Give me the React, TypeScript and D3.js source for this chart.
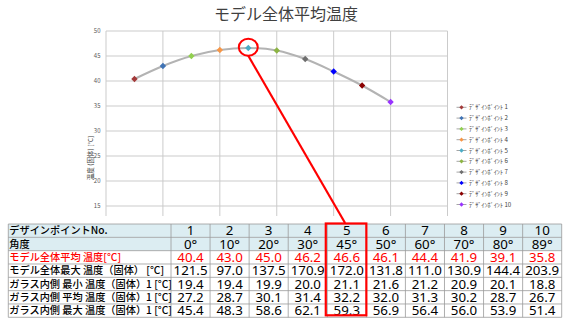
import React from "react";
import * as d3 from "d3";

const title = "モデル全体平均温度";
const yAxisTitle = "温度 (固体) [°C]";
const pointNos = [1, 2, 3, 4, 5, 6, 7, 8, 9, 10];
const angles = [0, 10, 20, 30, 45, 50, 60, 70, 80, 89];
const avgTemp = [40.4, 43.0, 45.0, 46.2, 46.6, 46.1, 44.4, 41.9, 39.1, 35.8];
const maxTemp = [121.5, 97.0, 137.5, 170.9, 172.0, 131.8, 111.0, 130.9, 144.4, 203.9];
const glassMin = [19.4, 19.4, 19.9, 20.0, 21.1, 21.6, 21.2, 20.9, 20.1, 18.8];
const glassAvg = [27.2, 28.7, 30.1, 31.4, 32.2, 32.0, 31.3, 30.2, 28.7, 26.7];
const glassMax = [45.4, 48.3, 58.6, 62.1, 59.3, 56.9, 56.4, 56.0, 53.9, 51.4];
const seriesColors = [
  "#a33a3a", "#3f73b5", "#92d050", "#f79646", "#4bacc6",
  "#8cb443", "#6e6e6e", "#0000ff", "#8b0000", "#9933ff",
];
const legendLabel = "ﾃﾞｻﾞｲﾝﾎﾟｲﾝﾄ";
const rowLabels = [
  "デザインポイントNo.",
  "角度",
  "モデル全体平均 温度[°C]",
  "モデル全体最大 温度（固体） [°C]",
  "ガラス内側 最小 温度（固体）1 [°C]",
  "ガラス内側 平均 温度（固体）1 [°C]",
  "ガラス内側 最大 温度（固体）1 [°C]",
];
const highlightIndex = 4;

const FONT = "'Noto Sans CJK JP', 'Noto Sans', sans-serif";

export default function App() {
  const W = 567, H = 321;
  const x = d3.scaleLinear().domain([0, 12]).range([106, 447.5]);
  const y = d3.scaleLinear().domain([0, 50]).range([281, 31]);
  const yTicks = d3.range(0, 51, 5);
  const xTicks = d3.range(0, 13, 2);
  const pts: [number, number][] = avgTemp.map((v, i) => [x(pointNos[i]), y(v)]);
  const line = d3.line().curve(d3.curveCatmullRom.alpha(0.5))(pts) || "";
  const marker = d3.symbol(d3.symbolDiamond2, 26)() || "";
  const legMarker = d3.symbol(d3.symbolDiamond2, 12)() || "";

  // table
  const tLeft = 8.3, tTop = 224, rowH = 13.33, labelW = 162.7;
  const colW = 39.07;
  const colX = (i: number) => tLeft + labelW + i * colW;
  const tRight = colX(10);
  const rows: (string[])[] = [
    pointNos.map(String),
    angles.map((a) => `${a}°`),
    avgTemp.map((v) => v.toFixed(1)),
    maxTemp.map((v) => v.toFixed(1)),
    glassMin.map((v) => v.toFixed(1)),
    glassAvg.map((v) => v.toFixed(1)),
    glassMax.map((v) => v.toFixed(1)),
  ];

  const hx = x(pointNos[highlightIndex]);
  const hy = y(avgTemp[highlightIndex]);
  const boxL = colX(highlightIndex) - 1.5;
  const boxR = colX(highlightIndex + 1);

  return (
    <svg width={W} height={H} style={{ position: "absolute", left: 0, top: 0, background: "#fff" }} fontFamily={FONT}>
      <rect x={0} y={0} width={W} height={H} fill="#fff" />
      <text x={286} y={20} textAnchor="middle" fontSize={16} fill="#404040">{title}</text>
      {/* gridlines */}
      {yTicks.map((t) => (
        <line key={"gy" + t} x1={x(0)} x2={x(12)} y1={y(t)} y2={y(t)} stroke="#cbcbcb" strokeWidth={1} />
      ))}
      {xTicks.map((t) => (
        <line key={"gx" + t} x1={x(t)} x2={x(t)} y1={y(50)} y2={y(0)} stroke="#cbcbcb" strokeWidth={1} />
      ))}
      {yTicks.map((t) => (
        <text key={"ty" + t} x={100.5} y={y(t) + 2} textAnchor="end" fontSize={6} fill="#595959">{t}</text>
      ))}
      <text transform={`translate(92.5,158) rotate(-90)`} textAnchor="middle" fontSize={6.5} fill="#404040">{yAxisTitle}</text>
      <path d={line} fill="none" stroke="#b3b3b3" strokeWidth={2} />
      {pts.map((p, i) => (
        <path key={"m" + i} d={marker} transform={`translate(${p[0]},${p[1]})`} fill={seriesColors[i]} />
      ))}
      {/* legend */}
      {pointNos.map((n, i) => {
        const ly = 107.3 + i * 10.8;
        return (
          <g key={"lg" + i}>
            <line x1={456.5} x2={466.5} y1={ly} y2={ly} stroke="#a6a6a6" strokeWidth={1} />
            <path d={legMarker} transform={`translate(461.5,${ly})`} fill={seriesColors[i]} />
            <text x={469} y={ly + 2} fontSize={6.2} fill="#404040">{`${legendLabel} ${n}`}</text>
          </g>
        );
      })}
      {/* table cover */}
      <rect x={0} y={216} width={W} height={H - 216} fill="#fff" />
      {[0, 1].map((r) => (
        <rect key={"hb" + r} x={tLeft} y={tTop + r * rowH} width={tRight - tLeft} height={rowH} fill="#dcedf2" />
      ))}
      {d3.range(8).map((r) => (
        <line key={"hl" + r} x1={tLeft} x2={tRight} y1={tTop + r * rowH} y2={tTop + r * rowH} stroke="#9a9a9a" strokeWidth={0.8} />
      ))}
      <line x1={tLeft} x2={tLeft} y1={tTop} y2={tTop + 7 * rowH} stroke="#9a9a9a" strokeWidth={0.8} />
      {d3.range(11).map((c) => (
        <line key={"vl" + c} x1={colX(c)} x2={colX(c)} y1={tTop} y2={tTop + 7 * rowH} stroke="#9a9a9a" strokeWidth={0.8} />
      ))}
      {rowLabels.map((lab, r) => (
        <text key={"rl" + r} x={tLeft + 1} y={tTop + r * rowH + 10.3} fontSize={10.2} fontWeight={500}
          fill={r === 2 ? "#ff0000" : "#000"}>{lab}</text>
      ))}
      {rows.map((row, r) =>
        row.map((v, c) => (
          <text key={`c${r}-${c}`} x={colX(c) + colW / 2} y={tTop + r * rowH + 11.3} textAnchor="middle"
            fontSize={13.3} fill={r === 2 ? "#ff0000" : "#000"} fontFamily="'Noto Sans', sans-serif">{v}</text>
        ))
      )}
      {/* highlight */}
      <ellipse cx={hx} cy={hy - 0.8} rx={9.5} ry={8.5} fill="none" stroke="#ff0000" strokeWidth={2} />
      <line x1={hx} x2={(boxL + boxR) / 2 - 1} y1={hy + 7.8} y2={tTop - 1} stroke="#ff0000" strokeWidth={2.2} />
      <rect x={boxL} y={tTop - 0.5} width={boxR - boxL} height={7 * rowH - 1.5} fill="none" stroke="#ff0000" strokeWidth={2.2} />
    </svg>
  );
}
